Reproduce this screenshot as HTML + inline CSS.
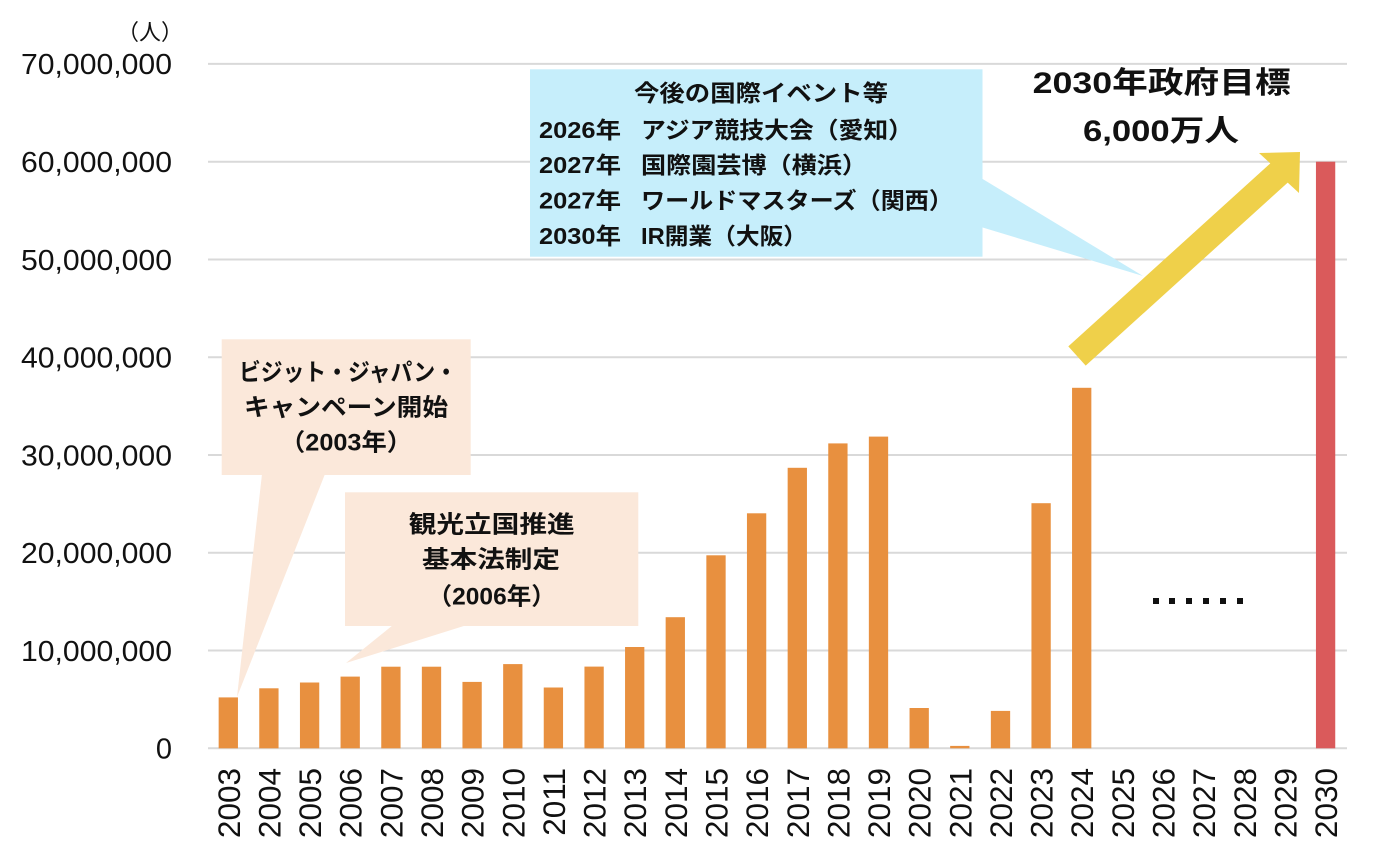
<!DOCTYPE html>
<html>
<head>
<meta charset="utf-8">
<style>
html,body{margin:0;padding:0;background:#fff;}
svg{display:block;}
.yl{font-family:"Liberation Sans","Noto Sans CJK JP",sans-serif;font-size:29px;fill:#111;}
.xl{font-family:"Liberation Sans","Noto Sans CJK JP",sans-serif;font-size:31.5px;fill:#111;}
.jp{font-family:"Liberation Sans","Noto Sans CJK JP",sans-serif;font-weight:bold;fill:#111;}
</style>
</head>
<body>
<svg width="1380" height="859" viewBox="0 0 1380 859" xmlns="http://www.w3.org/2000/svg">
<rect width="1380" height="859" fill="#fff"/>
<!-- gridlines -->
<g stroke="#d9d9d9" stroke-width="2">
<line x1="208" x2="1347" y1="748.3" y2="748.3"/>
<line x1="208" x2="1347" y1="650.5" y2="650.5"/>
<line x1="208" x2="1347" y1="552.8" y2="552.8"/>
<line x1="208" x2="1347" y1="455" y2="455"/>
<line x1="208" x2="1347" y1="357.2" y2="357.2"/>
<line x1="208" x2="1347" y1="259.5" y2="259.5"/>
<line x1="208" x2="1347" y1="161.7" y2="161.7"/>
<line x1="208" x2="1347" y1="63.9" y2="63.9"/>
</g>
<!-- y labels -->
<g class="yl" text-anchor="end">
<text x="172" y="758.6">0</text>
<text x="172" y="660.8" textLength="151" lengthAdjust="spacingAndGlyphs">10,000,000</text>
<text x="172" y="563.1" textLength="151" lengthAdjust="spacingAndGlyphs">20,000,000</text>
<text x="172" y="465.3" textLength="151" lengthAdjust="spacingAndGlyphs">30,000,000</text>
<text x="172" y="367.5" textLength="151" lengthAdjust="spacingAndGlyphs">40,000,000</text>
<text x="172" y="269.8" textLength="151" lengthAdjust="spacingAndGlyphs">50,000,000</text>
<text x="172" y="172" textLength="151" lengthAdjust="spacingAndGlyphs">60,000,000</text>
<text x="172" y="74.2" textLength="151" lengthAdjust="spacingAndGlyphs">70,000,000</text>
</g>
<text x="183" y="40" text-anchor="end" style="font-family:'Liberation Sans','Noto Sans CJK JP',sans-serif;font-size:22px;fill:#111;">（人）</text>

<!-- bars -->
<g fill="#e8903f">
<rect x="218.65" y="697.4" width="19.3" height="50.9"/>
<rect x="259.25" y="688.3" width="19.3" height="60"/>
<rect x="299.95" y="682.5" width="19.3" height="65.8"/>
<rect x="340.55" y="676.6" width="19.3" height="71.7"/>
<rect x="381.25" y="666.7" width="19.3" height="81.6"/>
<rect x="421.85" y="666.7" width="19.3" height="81.6"/>
<rect x="462.45" y="681.9" width="19.3" height="66.4"/>
<rect x="503.15" y="664.1" width="19.3" height="84.2"/>
<rect x="543.75" y="687.5" width="19.3" height="60.8"/>
<rect x="584.45" y="666.6" width="19.3" height="81.7"/>
<rect x="625.05" y="647" width="19.3" height="101.3"/>
<rect x="665.65" y="617.2" width="19.3" height="131.1"/>
<rect x="706.35" y="555.3" width="19.3" height="193"/>
<rect x="746.95" y="513.3" width="19.3" height="235"/>
<rect x="787.65" y="467.8" width="19.3" height="280.5"/>
<rect x="828.25" y="443.4" width="19.3" height="304.9"/>
<rect x="868.85" y="436.6" width="19.3" height="311.7"/>
<rect x="909.55" y="708" width="19.3" height="40.3"/>
<rect x="950.15" y="745.9" width="19.3" height="2.4"/>
<rect x="990.85" y="710.9" width="19.3" height="37.4"/>
<rect x="1031.45" y="503.2" width="19.3" height="245.1"/>
<rect x="1072.05" y="387.8" width="19.3" height="360.5"/>
</g>
<rect x="1315.95" y="161.7" width="19.3" height="586.6" fill="#da5a5b"/>

<!-- x labels -->
<g class="xl" text-anchor="end">
<text transform="translate(239.8,768) rotate(-90)">2003</text>
<text transform="translate(280.4,768) rotate(-90)">2004</text>
<text transform="translate(321.1,768) rotate(-90)">2005</text>
<text transform="translate(361.7,768) rotate(-90)">2006</text>
<text transform="translate(402.4,768) rotate(-90)">2007</text>
<text transform="translate(443,768) rotate(-90)">2008</text>
<text transform="translate(483.6,768) rotate(-90)">2009</text>
<text transform="translate(524.3,768) rotate(-90)">2010</text>
<text transform="translate(564.9,768) rotate(-90)">2011</text>
<text transform="translate(605.6,768) rotate(-90)">2012</text>
<text transform="translate(646.2,768) rotate(-90)">2013</text>
<text transform="translate(686.8,768) rotate(-90)">2014</text>
<text transform="translate(727.5,768) rotate(-90)">2015</text>
<text transform="translate(768.1,768) rotate(-90)">2016</text>
<text transform="translate(808.8,768) rotate(-90)">2017</text>
<text transform="translate(849.4,768) rotate(-90)">2018</text>
<text transform="translate(890,768) rotate(-90)">2019</text>
<text transform="translate(930.7,768) rotate(-90)">2020</text>
<text transform="translate(971.3,768) rotate(-90)">2021</text>
<text transform="translate(1012,768) rotate(-90)">2022</text>
<text transform="translate(1052.6,768) rotate(-90)">2023</text>
<text transform="translate(1093.2,768) rotate(-90)">2024</text>
<text transform="translate(1133.9,768) rotate(-90)">2025</text>
<text transform="translate(1174.5,768) rotate(-90)">2026</text>
<text transform="translate(1215.2,768) rotate(-90)">2027</text>
<text transform="translate(1255.8,768) rotate(-90)">2028</text>
<text transform="translate(1296.4,768) rotate(-90)">2029</text>
<text transform="translate(1337.1,768) rotate(-90)">2030</text>
</g>

<!-- dots -->
<g fill="#111">
<rect x="1153" y="598" width="6" height="6"/>
<rect x="1169" y="598" width="6" height="6"/>
<rect x="1186" y="598" width="6" height="6"/>
<rect x="1203" y="598" width="6" height="6"/>
<rect x="1220" y="598" width="6" height="6"/>
<rect x="1237" y="598" width="6" height="6"/>
</g>

<!-- callout 1 -->
<g fill="#fbe8da">
<rect x="221.7" y="339.3" width="249" height="135.7"/>
<polygon points="262,474 325,474 237,697"/>
</g>
<g class="jp" font-size="24" text-anchor="middle" dominant-baseline="central">
<text x="348" y="373" textLength="218" lengthAdjust="spacingAndGlyphs">ビジット・ジャパン・</text>
<text x="346" y="408" textLength="204" lengthAdjust="spacingAndGlyphs">キャンペーン開始</text>
<text x="346" y="443" textLength="132" lengthAdjust="spacingAndGlyphs">（2003年）</text>
</g>

<!-- callout 2 -->
<g fill="#fbe8da">
<rect x="345" y="492.3" width="293.3" height="133.7"/>
<polygon points="393,625 467,625 346,663"/>
</g>
<g class="jp" font-size="24" text-anchor="middle" dominant-baseline="central">
<text x="491.7" y="525" textLength="166" lengthAdjust="spacingAndGlyphs">観光立国推進</text>
<text x="491" y="560" textLength="138" lengthAdjust="spacingAndGlyphs">基本法制定</text>
<text x="491.7" y="597" textLength="128" lengthAdjust="spacingAndGlyphs">（2006年）</text>
</g>

<!-- blue callout -->
<g fill="#c6eefb">
<rect x="530" y="69.3" width="452.5" height="187.4"/>
<polygon points="981,178 981,227 1143,276"/>
</g>
<g class="jp" font-size="23" dominant-baseline="central">
<text x="761" y="93" text-anchor="middle" textLength="254" lengthAdjust="spacingAndGlyphs">今後の国際イベント等</text>
<text x="539" y="130" textLength="82" lengthAdjust="spacingAndGlyphs">2026年</text>
<text x="539" y="165" textLength="82" lengthAdjust="spacingAndGlyphs">2027年</text>
<text x="539" y="200.3" textLength="82" lengthAdjust="spacingAndGlyphs">2027年</text>
<text x="539" y="236" textLength="82" lengthAdjust="spacingAndGlyphs">2030年</text>
<text x="641" y="130" textLength="272" lengthAdjust="spacingAndGlyphs">アジア競技大会（愛知）</text>
<text x="641" y="165" textLength="226" lengthAdjust="spacingAndGlyphs">国際園芸博（横浜）</text>
<text x="641" y="200.3" textLength="312" lengthAdjust="spacingAndGlyphs">ワールドマスターズ（関西）</text>
<text x="641" y="236" textLength="166" lengthAdjust="spacingAndGlyphs">IR開業（大阪）</text>
</g>

<!-- yellow arrow -->
<polygon fill="#efd04a" points="1068.3,346.4 1270.3,163.4 1259,153 1300,152 1299,193 1287.7,182.6 1085.7,365.6"/>

<!-- target text -->
<g class="jp" text-anchor="middle" dominant-baseline="central" font-size="30">
<text x="1161.7" y="83.3" textLength="258" lengthAdjust="spacingAndGlyphs">2030年政府目標</text>
<text x="1161" y="131.7" textLength="156" lengthAdjust="spacingAndGlyphs">6,000万人</text>
</g>
</svg>
</body>
</html>
